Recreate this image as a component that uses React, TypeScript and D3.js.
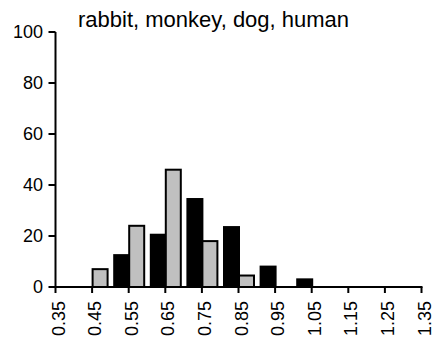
import React from "react";
import * as d3 from "d3";

const binStarts = [0.35, 0.45, 0.55, 0.65, 0.75, 0.85, 0.95, 1.05, 1.15, 1.25, 1.35];
const tickLabels = ["0.35", "0.45", "0.55", "0.65", "0.75", "0.85", "0.95", "1.05", "1.15", "1.25", "1.35"];
const blackValues = [0, 0, 12.5, 20.5, 34.5, 23.5, 8, 3, 0, 0, 0];
const grayValues = [0, 7, 24, 46, 18, 4.5, 0, 0, 0, 0, 0];
const yTicks = [0, 20, 40, 60, 80, 100];
const seriesKeys = ["black", "gray"];
const title = "rabbit, monkey, dog, human";

const W = 434;
const H = 343;
const FONT = "'Liberation Sans', Arial, Helvetica, sans-serif";

export default function App() {
  const x = d3.scaleLinear().domain([0.35, 1.35]).range([55.5, 421.5]);
  const y = d3.scaleLinear().domain([0, 100]).range([287, 32]);
  const inner = d3.scaleBand<string>().domain(seriesKeys).range([-14.5, 15.5]).paddingInner(0);
  const fills: Record<string, string> = { black: "#000000", gray: "#c0c0c0" };
  const seriesData: Record<string, number[]> = { black: blackValues, gray: grayValues };

  return (
    <svg
      width={W}
      height={H}
      style={{ position: "absolute", left: 0, top: 0, background: "#fff" }}
      fontFamily={FONT}
    >
      <rect x={0} y={0} width={W} height={H} fill="#fff" />
      {seriesKeys.map((k) =>
        seriesData[k].map((v, i) =>
          v > 0 ? (
            <rect
              key={k + i}
              x={x(binStarts[i]) + (inner(k) as number)}
              y={y(v)}
              width={inner.bandwidth()}
              height={y(0) - y(v)}
              fill={fills[k]}
              stroke="#000"
              strokeWidth={2}
            />
          ) : null
        )
      )}
      {/* y axis */}
      <line x1={x(0.35)} x2={x(0.35)} y1={y(100)} y2={y(0)} stroke="#000" strokeWidth={2} />
      {yTicks.map((t) => (
        <g key={t}>
          <line x1={x(0.35) - 7} x2={x(0.35)} y1={y(t)} y2={y(t)} stroke="#000" strokeWidth={2} />
          <text x={43} y={y(t)} dy="0.35em" textAnchor="end" fontSize={18} fill="#000">
            {t}
          </text>
        </g>
      ))}
      {/* x axis */}
      <line x1={x(0.35) - 1} x2={x(1.35) + 1} y1={y(0)} y2={y(0)} stroke="#000" strokeWidth={2} />
      {binStarts.map((b, i) => (
        <g key={b}>
          <line x1={x(b)} x2={x(b)} y1={y(0)} y2={y(0) + 6} stroke="#000" strokeWidth={2} />
          <text
            transform={`translate(${x(b)},${301})rotate(-90)`}
            dy="0.5em"
            textAnchor="end"
            fontSize={18}
            fill="#000"
          >
            {tickLabels[i]}
          </text>
        </g>
      ))}
      <text x={78} y={27} fontSize={22} fill="#000">
        {title}
      </text>
    </svg>
  );
}
